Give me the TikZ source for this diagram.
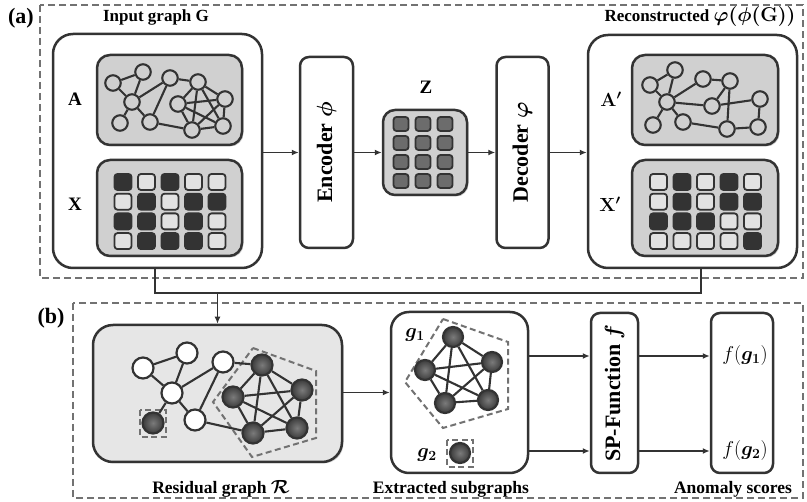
\RequirePackage{fix-cm}
\documentclass[tikz,border=0pt]{standalone}
\usepackage{fontspec}
\setmainfont{Liberation Serif}
\usepackage{bm}
\usetikzlibrary{arrows.meta,shadows}

\definecolor{ink}{HTML}{333333}
\definecolor{boxgray}{HTML}{D0D0D0}
\definecolor{palegray}{HTML}{E6E6E6}
\definecolor{dashgray}{HTML}{727272}
\definecolor{cellwhite}{HTML}{E2E2E2}
\definecolor{zcell}{HTML}{6C6C6C}

\tikzset{
  panel/.style={draw=dashgray, line width=2.2pt, dash pattern=on 7pt off 4pt},
  subdash/.style={draw=dashgray, line width=2pt, dash pattern=on 6pt off 3.5pt},
  outerbox/.style={draw=ink, line width=2.5pt, rounded corners=20pt, fill=white, inner sep=0pt},
  innerbox/.style={draw=ink, line width=2.5pt, rounded corners=13pt, fill=boxgray, inner sep=0pt,
    drop shadow={shadow xshift=1.5pt, shadow yshift=-1.5pt, opacity=0.35}},
  modbox/.style={draw=ink, line width=2.5pt, rounded corners=9pt, fill=white, inner sep=0pt},
  arr/.style={draw=ink, line width=1.8pt, -{Latex[length=7pt,width=6pt]}},
  gedge/.style={draw=ink, line width=2.1pt},
  gnode/.style={circle, draw=ink, line width=2.1pt, fill=boxgray, minimum size=15.5pt, inner sep=0pt},
  wnode/.style={circle, draw=ink, line width=2.2pt, fill=white, minimum size=21pt, inner sep=0pt},
  dnode/.style={circle, draw=ink, line width=2.2pt, inner color=zcell!90!white, outer color=ink!85!zcell,
    minimum size=21pt, inner sep=0pt},
  blackcell/.style={draw=ink, fill=ink, line width=1.8pt, rounded corners=3pt,
    minimum width=17pt, minimum height=16pt, inner sep=0pt},
  whitecell/.style={draw=ink, fill=cellwhite, line width=1.8pt, rounded corners=3pt,
    minimum width=17pt, minimum height=16pt, inner sep=0pt},
  zcellbox/.style={draw=ink, fill=zcell, line width=1.8pt, rounded corners=3pt,
    minimum width=15pt, minimum height=14pt, inner sep=0pt},
  plbl/.style={font=\bfseries\fontsize{22}{26}\selectfont, inner sep=0pt},
  lbl/.style={font=\bfseries\boldmath\fontsize{19}{22}\selectfont, inner sep=0pt},
  vlbl/.style={font=\bfseries\boldmath\fontsize{22}{26}\selectfont, inner sep=0pt, rotate=90},
  ttl/.style={font=\bfseries\boldmath\fontsize{17}{20}\selectfont, inner sep=0pt},
  btl/.style={font=\bfseries\boldmath\fontsize{17.5}{21}\selectfont, inner sep=0pt},
  mlbl/.style={font=\fontsize{20}{24}\selectfont, inner sep=0pt},
}

\begin{document}
\begin{tikzpicture}[x=1pt, y=-1pt]
\useasboundingbox (0,0) rectangle (807,502);

% ---------- panel frames ----------
\draw[panel] (40,5) rectangle (803,278);
\draw[panel] (73,303) rectangle (803,498);
\node[plbl] (pa) at (21,18) {(a)};
\node[plbl] (pb) at (51,318) {(b)};

% ---------- (a) autoencoder ----------
\node[outerbox, minimum width=209pt, minimum height=234pt] (inG) at (157.5,151) {};
\node[outerbox, minimum width=209pt, minimum height=233pt] (recon) at (692.5,151.5) {};
\node[ttl] (tIn) at (156,17) {Input graph G};
\node[ttl] (tRe) at (700,17) {Reconstructed {\fontsize{20}{22}\selectfont$\varphi(\phi(\mathbf{G}))$}};

\node[innerbox, minimum width=145pt, minimum height=90pt] (Abox) at (169.5,100) {};
\node[innerbox, minimum width=145pt, minimum height=96pt] (Xbox) at (169.5,208) {};
\node[innerbox, minimum width=146pt, minimum height=90pt] (Apbox) at (705,100) {};
\node[innerbox, minimum width=146pt, minimum height=96pt] (Xpbox) at (705,208) {};
\node[lbl] (lA) at (75,99) {A};
\node[lbl] (lX) at (75,204) {X};
\node[lbl] (lAp) at (611,99) {$\mathbf{A'}$};
\node[lbl] (lXp) at (610,204) {$\mathbf{X'}$};

\node[modbox, minimum width=53pt, minimum height=191pt] (enc) at (326.5,152.5) {};
\node[vlbl] (tEnc) at (enc) {Encoder $\phi$};
\node[modbox, minimum width=52pt, minimum height=191pt] (dec) at (522.5,152.5) {};
\node[vlbl] (tDec) at (dec) {Decoder $\varphi$};

\node[innerbox, rounded corners=12pt, minimum width=84pt, minimum height=85pt] (Zbox) at (425,152.5) {};
\node[lbl] (lZ) at (426,87) {Z};
\foreach \c/\xx in {0/401,1/423,2/445}
  \foreach \r/\yy in {0/124,1/143,2/162,3/181}
    \node[zcellbox] (z-\r-\c) at (\xx,\yy) {};

% feature matrices X and X'
\foreach \r/\row in {0/{1,0,1,0,0},1/{0,1,0,1,1},2/{1,1,0,1,0},3/{0,1,1,1,0}}
  \foreach \v [count=\c from 0] in \row {
    \ifnum\v=1 \def\cs{blackcell}\else\def\cs{whitecell}\fi
    \node[\cs] (x-\r-\c) at ({123+23.5*\c},{182+19.7*\r}) {};
  }
\foreach \r/\row in {0/{0,1,0,1,0},1/{0,1,0,1,1},2/{1,1,1,0,0},3/{0,0,0,0,1}}
  \foreach \v [count=\c from 0] in \row {
    \ifnum\v=1 \def\cs{blackcell}\else\def\cs{whitecell}\fi
    \node[\cs] (xp-\r-\c) at ({658.5+23.5*\c},{182+19.7*\r}) {};
  }

% adjacency graph A
\foreach \n/\p in {a1/{113,83},a2/{143,72},a3/{132,102},a4/{120,123},a5/{150,122},a6/{170,78},
                   a7/{198,82},a8/{178,104},a9/{225,99},a10/{192,130},a11/{223,126}}
  \node[gnode] (\n) at (\p) {};
\foreach \u/\v in {a1/a2,a1/a3,a2/a3,a3/a4,a3/a5,a3/a6,a5/a6,a6/a7,a5/a10,
                   a7/a8,a7/a9,a7/a10,a7/a11,a8/a9,a8/a10,a8/a11,a9/a10,a9/a11,a10/a11}
  \draw[gedge] (\u) -- (\v);

% reconstructed graph A'
\foreach \n/\p in {b1/{650,85},b2/{675,70},b3/{667,102},b4/{653,125},b5/{683,122},b6/{703,79},
                   b7/{730,81},b8/{712,106},b9/{760,99},b10/{727,129},b11/{758,127}}
  \node[gnode] (\n) at (\p) {};
\foreach \u/\v in {b1/b2,b1/b3,b2/b3,b3/b4,b3/b5,b3/b6,b3/b8,b5/b10,b6/b7,b7/b8,b7/b10,
                   b8/b9,b9/b11,b10/b11}
  \draw[gedge] (\u) -- (\v);

% data flow in (a)
\draw[arr] (inG.east |- enc) -- (enc.west);
\draw[arr] (enc.east) -- (Zbox.west |- enc);
\draw[arr] (Zbox.east |- dec) -- (dec.west);
\draw[arr] (dec.east) -- (recon.west |- dec);

% residual bus from G and its reconstruction
\coordinate (busL) at (155,293);
\coordinate (busR) at (701,293);
\draw[draw=ink, line width=1.8pt] (inG.south -| busL) -- (busL) -- (busR) -- (recon.south -| busR);

% ---------- (b) scoring ----------
\node[innerbox, fill=palegray, rounded corners=20pt, minimum width=249pt, minimum height=137pt] (res) at (217.5,393.5) {};
\draw[arr] (res.north |- busL) -- (res.north);
\node[btl] (tRes) at (221,489) {Residual graph {\fontsize{19}{21}\selectfont$\mathcal{R}$}};

\draw[subdash] (253,348) -- (316,371) -- (316,438) -- (252,457) -- (213,402) -- cycle;
\draw[subdash] (140,410) rectangle (166,437);
\foreach \n/\p in {r1/{143,368},r2/{187,353},r3/{172,393},r4/{223,362},r5/{195,420}}
  \node[wnode] (\n) at (\p) {};
\foreach \n/\p in {ri/{153,423},d1/{262,365},d2/{233,397},d3/{302,390},d4/{253,433},d5/{297,428}}
  \node[dnode] (\n) at (\p) {};
\foreach \u/\v in {r1/r2,r1/r3,r2/r3,r3/r4,r3/ri,r3/r5,r4/r5,r4/d1,r5/d4,
                   d1/d2,d1/d3,d1/d4,d1/d5,d2/d3,d2/d4,d2/d5,d3/d4,d3/d5,d4/d5}
  \draw[gedge] (\u) -- (\v);

% extracted subgraphs
\node[modbox, rounded corners=18pt, minimum width=137pt, minimum height=161pt] (ext) at (459.5,392.5) {};
\node[btl] (tExt) at (451,489) {Extracted subgraphs};
\draw[subdash] (443,319) -- (508,342) -- (508,409) -- (443,428) -- (405,382) -- cycle;
\draw[subdash] (447,440) rectangle (473,467);
\foreach \n/\p in {e1/{453,337},e2/{425,370},e3/{492,362},e4/{445,403},e5/{488,400},eg/{460,453}}
  \node[dnode, minimum size=20pt] (\n) at (\p) {};
\foreach \u/\v in {e1/e2,e1/e3,e1/e4,e1/e5,e2/e3,e2/e4,e2/e5,e3/e4,e3/e5,e4/e5}
  \draw[gedge] (\u) -- (\v);
\node[mlbl] (lg1) at (415,335) {$\bm{g_1}$};
\node[mlbl] (lg2) at (427,455) {$\bm{g_2}$};

% SP-function and scores
\node[modbox, minimum width=47pt, minimum height=160pt] (sp) at (614.5,393) {};
\node[vlbl] (tSp) at (sp) {SP-Function $f$};
\node[modbox, minimum width=62pt, minimum height=160pt] (score) at (742,393) {};
\node[btl] (tSc) at (733,489) {Anomaly scores};

\coordinate (row1) at (0,356);
\coordinate (row2) at (0,451);
\node[mlbl] (s1) at (745,356) {$f(\bm{g_1})$};
\node[mlbl] (s2) at (745,451) {$f(\bm{g_2})$};

\draw[arr] (res.east |- ext) -- (ext.west);
\draw[arr] (ext.east |- row1) -- (sp.west |- row1);
\draw[arr] (ext.east |- row2) -- (sp.west |- row2);
\draw[arr] (sp.east |- row1) -- (score.west |- row1);
\draw[arr] (sp.east |- row2) -- (score.west |- row2);
\end{tikzpicture}
\end{document}
